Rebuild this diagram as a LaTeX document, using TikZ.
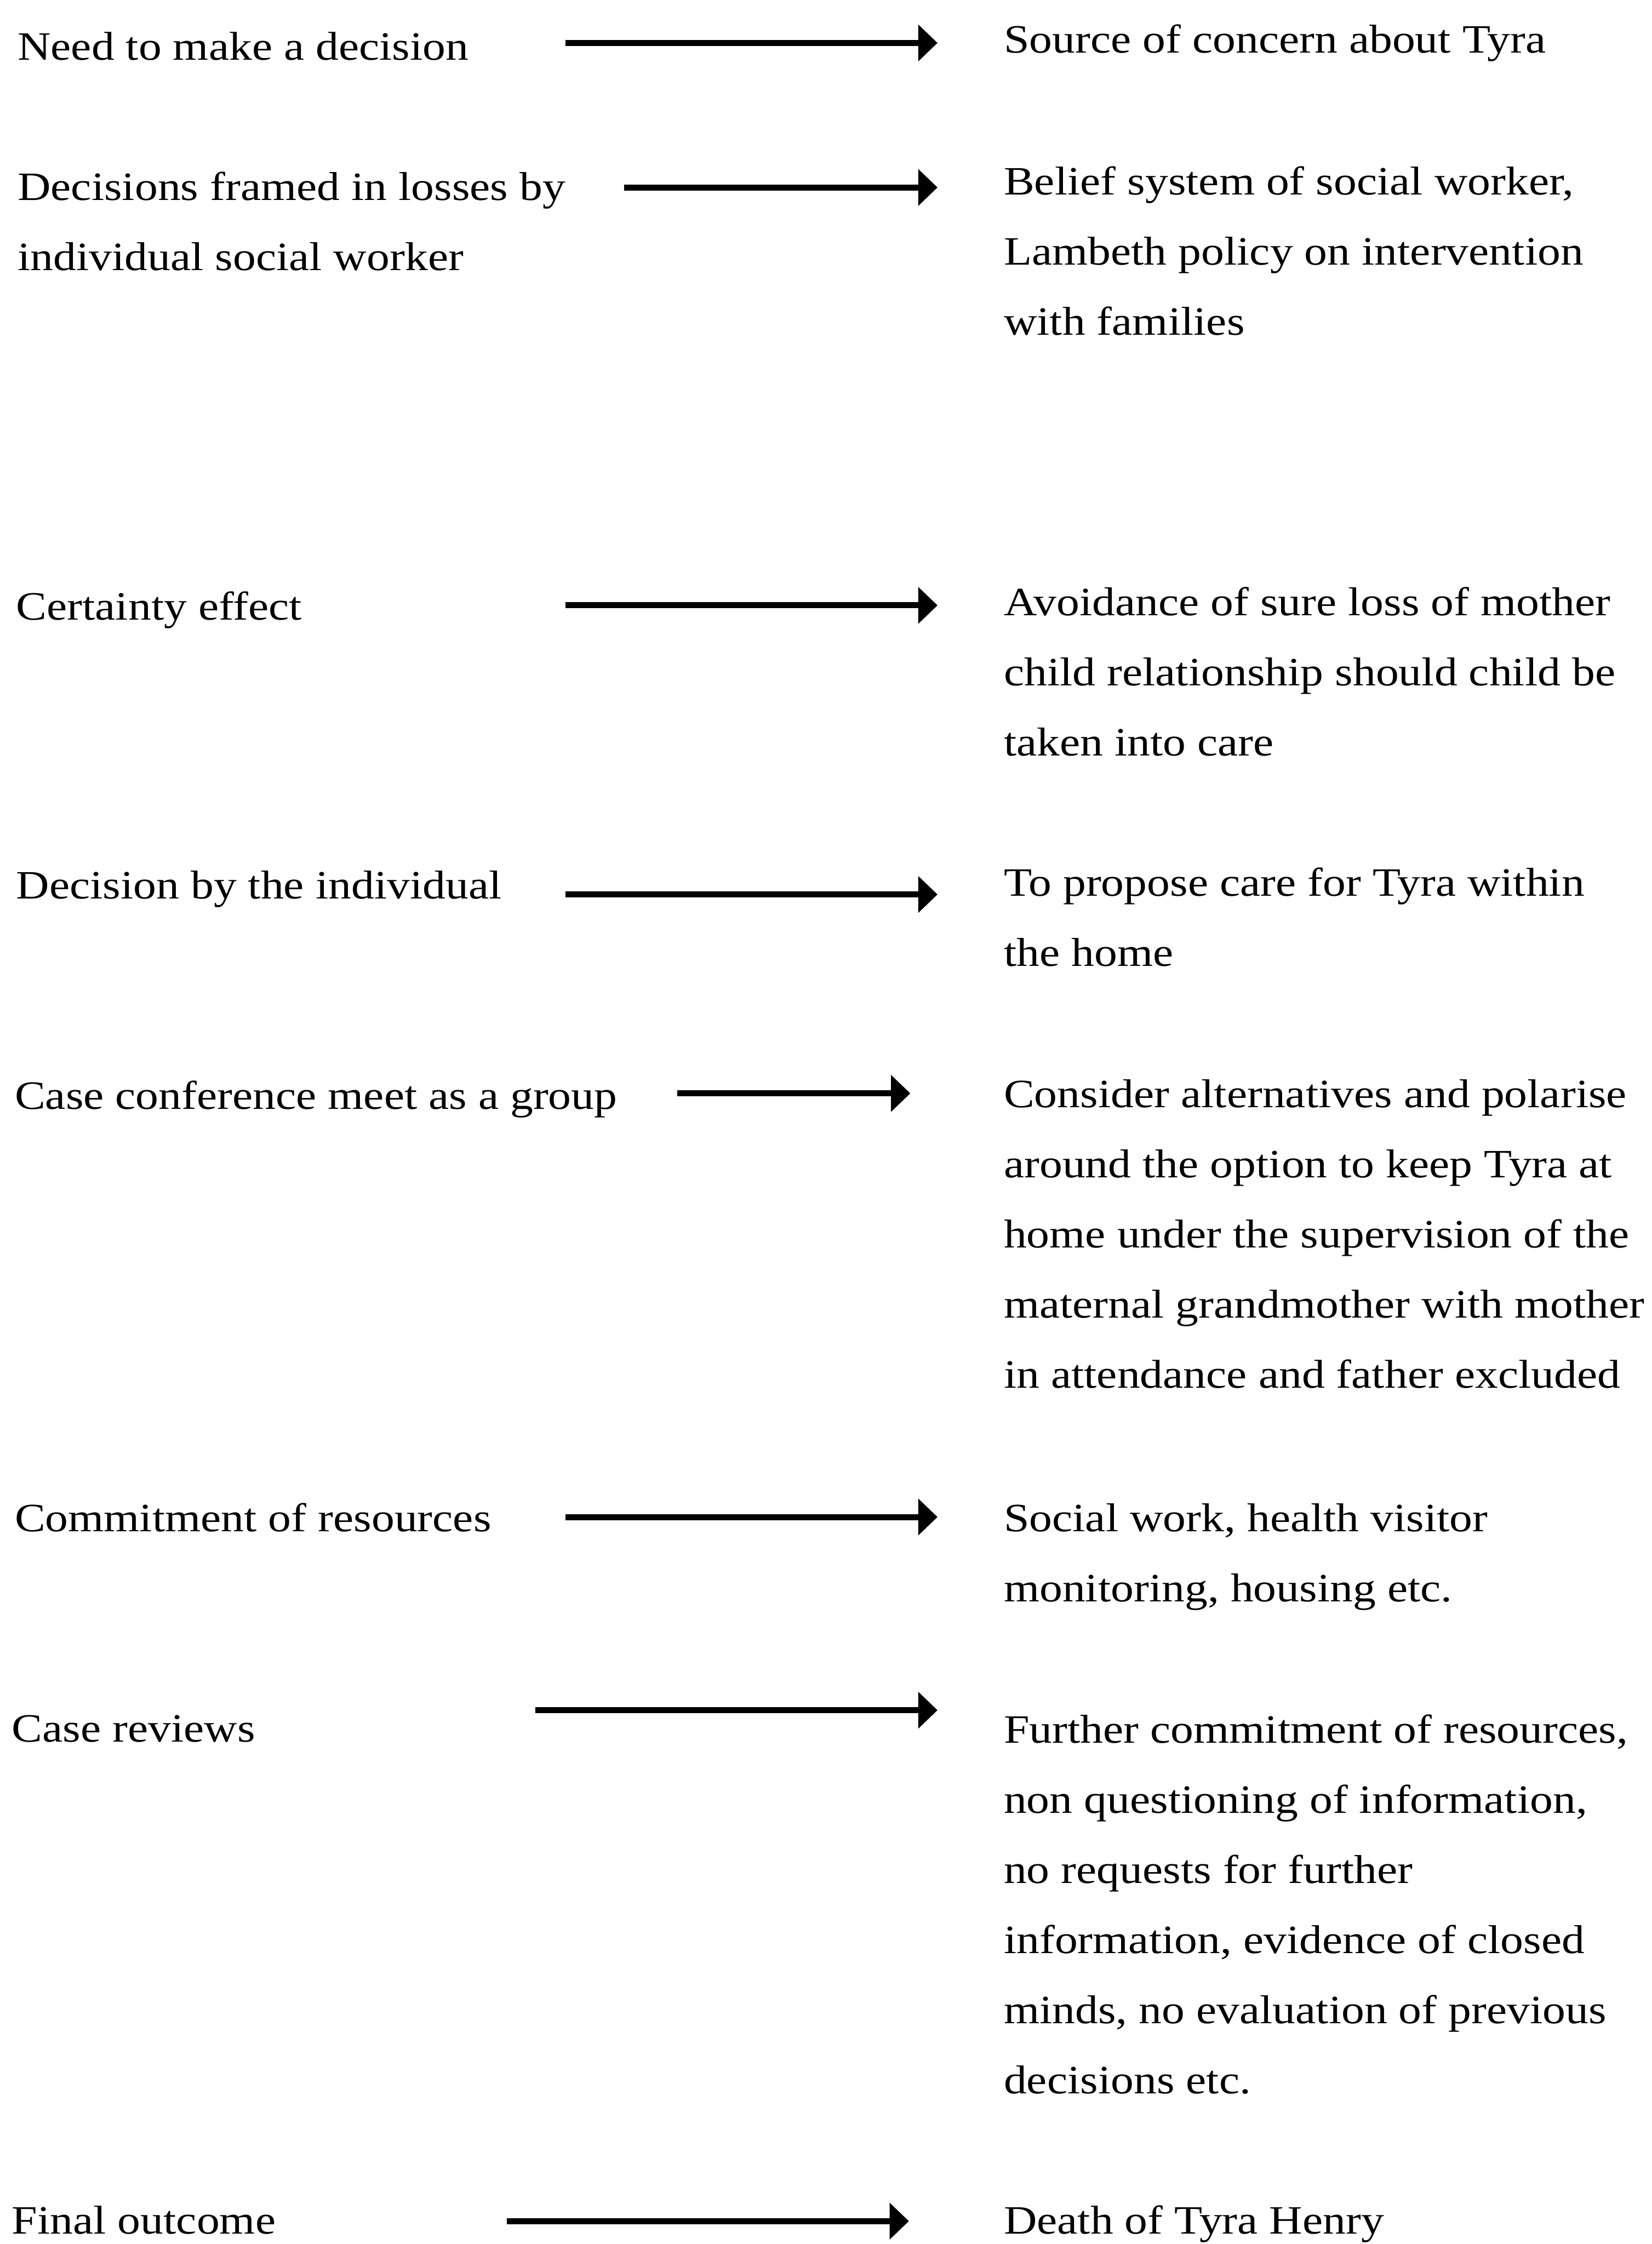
\documentclass[tikz,border=0pt]{standalone}
\usepackage{fontspec}
\setmainfont[FakeStretch=1.14]{Liberation Serif}
\usepackage{tikz}
\usetikzlibrary{arrows.meta}

\begin{document}
\begin{tikzpicture}[x=0.02cm, y=-0.02cm,
    txt/.style={anchor=base west, inner sep=0pt, align=left,
                font=\fontsize{16}{27.9}\selectfont},
    flow/.style={line width=2.4pt, -{Triangle[length=0.27cm, width=0.5cm]}}]
  \useasboundingbox (0,0) rectangle (1154,1568);
  % left column (y = baseline of last line)
  \node[txt] (l1) at (12,42) {Need to make a decision};
  \node[txt] (l2) at (12,189) {Decisions framed in losses by\\individual social worker};
  \node[txt] (l3) at (11,433) {Certainty effect};
  \node[txt] (l4) at (11,628) {Decision by the individual};
  \node[txt] (l5) at (10,775) {Case conference meet as a group};
  \node[txt] (l6) at (10,1070) {Commitment of resources};
  \node[txt] (l7) at (8,1217) {Case reviews};
  \node[txt] (l8) at (8,1561) {Final outcome};
  % right column
  \node[txt] (r1) at (701,37) {Source of concern about Tyra};
  \node[txt] (r2) at (701,234) {Belief system of social worker,\\Lambeth policy on intervention\\with families};
  \node[txt] (r3) at (701,528) {Avoidance of sure loss of mother\\child relationship should child be\\taken into care};
  \node[txt] (r4) at (701,675) {To propose care for Tyra within\\the home};
  \node[txt] (r5) at (701,970) {Consider alternatives and polarise\\around the option to keep Tyra at\\home under the supervision of the\\maternal grandmother with mother\\in attendance and father excluded};
  \node[txt] (r6) at (701,1119) {Social work, health visitor\\monitoring, housing etc.};
  \node[txt] (r7) at (701,1463) {Further commitment of resources,\\non questioning of information,\\no requests for further\\information, evidence of closed\\minds, no evaluation of previous\\decisions etc.};
  \node[txt] (r8) at (701,1561) {Death of Tyra Henry};
  % arrow ends
  \coordinate (a1) at (395,30);   \coordinate (b1) at (655,30);
  \coordinate (a2) at (436,131);  \coordinate (b2) at (655,131);
  \coordinate (a3) at (395,423);  \coordinate (b3) at (655,423);
  \coordinate (a4) at (395,625);  \coordinate (b4) at (655,625);
  \coordinate (a5) at (473,764);  \coordinate (b5) at (636,764);
  \coordinate (a6) at (395,1060); \coordinate (b6) at (655,1060);
  \coordinate (a7) at (374,1195); \coordinate (b7) at (655,1195);
  \coordinate (a8) at (354,1552); \coordinate (b8) at (635,1552);
  \draw[flow] (a1)--(b1);
  \draw[flow] (a2)--(b2);
  \draw[flow] (a3)--(b3);
  \draw[flow] (a4)--(b4);
  \draw[flow] (a5)--(b5);
  \draw[flow] (a6)--(b6);
  \draw[flow] (a7)--(b7);
  \draw[flow] (a8)--(b8);
\end{tikzpicture}
\end{document}
